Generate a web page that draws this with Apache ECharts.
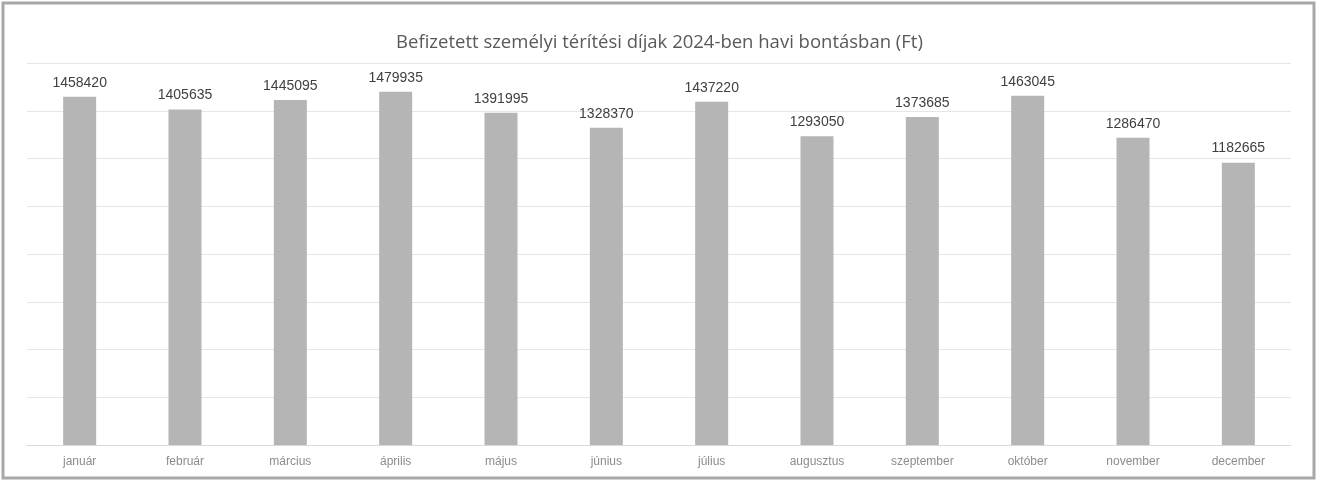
<!DOCTYPE html>
<html>
<head>
<meta charset="utf-8">
<script src="https://cdn.jsdelivr.net/npm/echarts@6/dist/echarts.min.js"></script>
<style>
html,body{margin:0;padding:0;background:#fff;}
#chart{width:1319px;height:483px;}
</style>
</head>
<body>
<div id="chart"></div>
<script>
const titleText = 'Befizetett személyi térítési díjak 2024-ben havi bontásban (Ft)';
const months = ['január','február','március','április','május','június','július','augusztus','szeptember','október','november','december'];
const payments = [1458420,1405635,1445095,1479935,1391995,1328370,1437220,1293050,1373685,1463045,1286470,1182665];
const yMin = 0, yMax = 1600000, yStep = 200000;

const chart = echarts.init(document.getElementById('chart'), null, {renderer:'canvas'});
chart.setOption({
  animation:false,
  backgroundColor:'#ffffff',
  title:{
    text:titleText,
    left:'center',
    top:28,
    textStyle:{fontFamily:'Open Sans, Liberation Sans, Arial, sans-serif',fontSize:18.5,fontWeight:'normal',color:'#595959'}
  },
  graphic:[{
    type:'rect',
    shape:{x:3,y:3,width:1311,height:475},
    style:{fill:null,stroke:'#a8a8a8',lineWidth:3},
    silent:true
  }],
  grid:{left:27,right:28,top:63,bottom:38,containLabel:false},
  xAxis:{
    type:'category',
    data:months,
    axisLine:{show:true,lineStyle:{color:'#d9d9d9',width:1}},
    axisTick:{show:false},
    axisLabel:{color:'#8c8c8c',fontSize:12,fontFamily:'Liberation Sans, Arial, sans-serif',margin:11}
  },
  yAxis:{
    type:'value',
    min:yMin,max:yMax,interval:yStep,
    axisLabel:{show:false},
    axisLine:{show:false},
    axisTick:{show:false},
    splitLine:{lineStyle:{color:'#e6e6e6',width:1}}
  },
  series:[{
    type:'bar',
    data:payments,
    barWidth:33,
    itemStyle:{color:'#b5b5b5'},
    label:{
      show:true,
      position:'top',
      distance:7,
      color:'#404040',
      fontSize:14,
      fontFamily:'Liberation Sans, Arial, sans-serif'
    }
  }]
});
</script>
</body>
</html>
